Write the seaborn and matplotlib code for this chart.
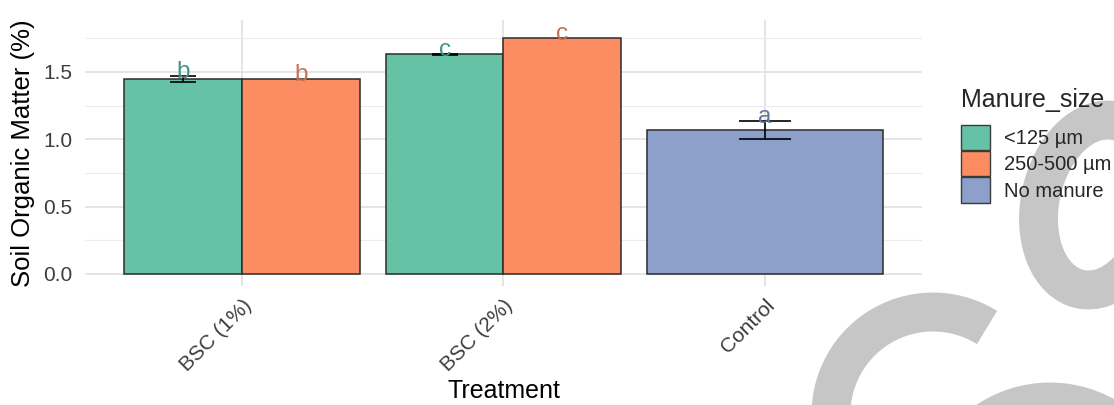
"""
Soil organic matter by treatment and manure particle size (bar chart with SE and letters)
"""

import numpy as np
import pandas as pd
import matplotlib.pyplot as plt
import seaborn as sns
from matplotlib.patches import Patch, Arc

# data
treatment_order = ["BSC (1%)", "BSC (2%)", "Control"]
manure_levels = ["<125 µm", "250-500 µm", "No manure"]

treatment = ["BSC (1%)", "BSC (1%)", "BSC (2%)", "BSC (2%)", "Control"]
manure_size = ["<125 µm", "250-500 µm", "<125 µm", "250-500 µm", "No manure"]
som_mean = [1.445, 1.445, 1.632, 1.755, 1.07]
som_se = [0.022, np.nan, 0.004, np.nan, 0.065]
letters = ["b", "b", "c", "c", "a"]

palette = {"<125 µm": "#66C2A5", "250-500 µm": "#FC8D62", "No manure": "#8DA0CB"}
letter_colors = {"<125 µm": "#3f9782", "250-500 µm": "#c27352", "No manure": "#66769f"}

# style
sns.set_theme(style="whitegrid")
plt.rcParams['font.family'] = ['Liberation Sans', 'DejaVu Sans']

df = pd.DataFrame({
    "Treatment": treatment,
    "Manure_size": manure_size,
    "SOM": som_mean,
    "SE": som_se,
    "Letter": letters,
})

fig = plt.figure(figsize=(11.14, 4.05), dpi=100)
fig.patch.set_facecolor("white")

# watermark "C" shapes in the background (pixel coords, y up)
bg = fig.add_axes([0, 0, 1, 1], zorder=-1)
bg.set_xlim(0, 1114)
bg.set_ylim(0, 405)
bg.axis("off")
wm = "#c6c6c6"
bg.add_patch(Arc((1098, 405 - 205), 2 * 58, 2 * 86, angle=-12, theta1=0, theta2=360,
                 color=wm, lw=28))
bg.add_patch(Arc((933, 405 - 414), 2 * 102, 2 * 102, theta1=58, theta2=200,
                 color=wm, lw=28))
bg.add_patch(Arc((1050, 405 - 515), 2 * 113, 2 * 113, theta1=20, theta2=160,
                 color=wm, lw=28))

ax = fig.add_axes([0.0763, 0.2938, 0.7513, 0.6568])
ax.set_facecolor("white")

bsc = df[df["Manure_size"] != "No manure"]
ctrl = df[df["Manure_size"] == "No manure"]

sns.barplot(data=bsc, x="Treatment", y="SOM", hue="Manure_size",
            order=treatment_order, hue_order=manure_levels[:2], palette=palette,
            width=0.9, errorbar=None, saturation=1, edgecolor="#2b2b2b",
            linewidth=1.1, legend=False, ax=ax)
sns.barplot(data=ctrl, x="Treatment", y="SOM", order=treatment_order,
            color=palette["No manure"], width=0.9, errorbar=None, saturation=1,
            edgecolor="#2b2b2b", linewidth=1.1, ax=ax)

ax.set_xlim(-0.6, 2.6)
ax.set_ylim(-0.09, 1.886)

# pixels per data unit on x, for cap widths
px_per_unit = ax.transData.transform((1, 0))[0] - ax.transData.transform((0, 0))[0]

for cont, level in zip(ax.containers, manure_levels):
    sub = df[df["Manure_size"] == level].copy()
    sub["pos"] = sub["Treatment"].map(treatment_order.index)
    sub = sub.sort_values("pos")
    bars = sorted(cont, key=lambda b: b.get_x())
    for bar, (_, row) in zip(bars, sub.iterrows()):
        xc = bar.get_x() + bar.get_width() / 2
        se = 0.0 if np.isnan(row["SE"]) else row["SE"]
        if se > 0:
            cap_pt = bar.get_width() * px_per_unit * 0.11 * 72 / fig.dpi
            ax.errorbar(xc, row["SOM"], yerr=se, fmt="none", ecolor="black",
                        elinewidth=1.2, capsize=cap_pt, capthick=1.2, zorder=4)
        ax.text(xc, row["SOM"] + se - 0.015, row["Letter"], ha="center",
                va="baseline", fontsize=17.5, color=letter_colors[level], zorder=5)

# grid / axes like theme_minimal
ax.set_yticks([0, 0.5, 1.0, 1.5])
ax.set_yticklabels([f"{v:.1f}" for v in [0, 0.5, 1.0, 1.5]])
ax.set_yticks([0.25, 0.75, 1.25, 1.75], minor=True)
ax.set_axisbelow(True)
ax.grid(which="major", axis="both", color="#dedede", linewidth=1.1)
ax.grid(which="minor", axis="y", color="#ececec", linewidth=0.8)
for s in ax.spines.values():
    s.set_visible(False)

ax.tick_params(axis="both", which="both", length=0, labelsize=15, labelcolor="#3d3d3d")
ax.tick_params(axis="y", pad=9)
ax.tick_params(axis="x", pad=7)
for lab in ax.get_xticklabels():
    lab.set_rotation(45)
    lab.set_ha("right")
    lab.set_rotation_mode("anchor")

ax.set_xlabel("Treatment", fontsize=18, color="black", labelpad=3)
ax.set_ylabel("Soil Organic Matter (%)", fontsize=18.5, color="black", labelpad=6)

# legend
handles = [Patch(facecolor=palette[l], edgecolor="#3a3a3a", linewidth=1.0) for l in manure_levels]
fig.text(961 / 1114, 1 - 107 / 405, "Manure_size", fontsize=18, ha="left", va="baseline")
fig.legend(handles, manure_levels, loc="upper left",
           bbox_to_anchor=(961 / 1114, 1 - 125 / 405), frameon=False,
           fontsize=14.5, handlelength=1.45, handleheight=1.55, labelspacing=0.05,
           handletextpad=0.7, borderpad=0, borderaxespad=0)

plt.savefig("out.png", dpi=100)
plt.close()
